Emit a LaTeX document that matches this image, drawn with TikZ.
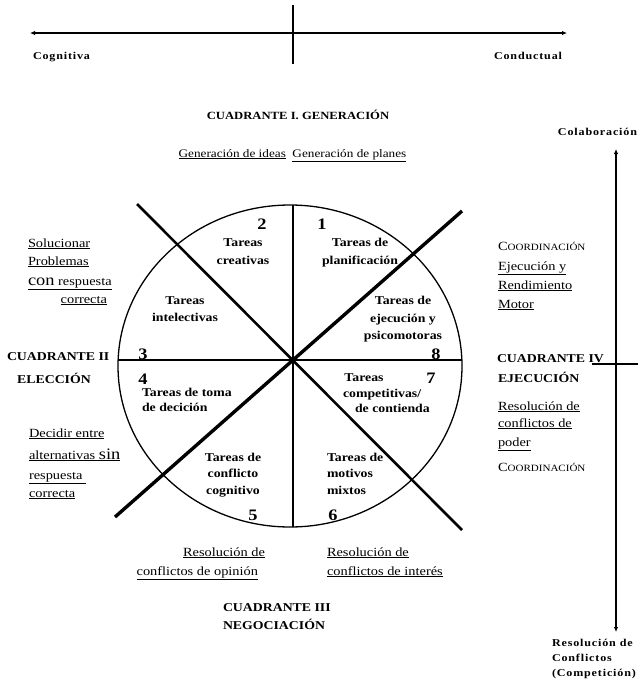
\documentclass[tikz,border=0pt]{standalone}
\usepackage{fontspec}
\setmainfont{Liberation Serif}[FakeStretch=1.15]
\usetikzlibrary{arrows.meta}
\newcommand{\ftask}{\fontsize{12}{14}\selectfont\bfseries}
\newcommand{\fnum}{\fontsize{16}{18}\selectfont\bfseries}
\newcommand{\flab}{\fontsize{12.5}{14}\selectfont}
\newcommand{\fgen}{\fontsize{11.5}{13}\selectfont}
\newcommand{\fbig}{\fontsize{16}{18}\selectfont}
\newcommand{\fcuad}{\fontsize{12}{14}\selectfont\bfseries}
\newcommand{\fcuadi}{\fontsize{11}{13}\selectfont\bfseries}
\newcommand{\fsml}{\fontsize{10.5}{12}\selectfont\bfseries\addfontfeatures{LetterSpace=8}}
\newcommand{\coord}{{\flab C\fontsize{9.6}{14}\selectfont OORDINACIÓN}}
\tikzset{
  txt/.style={inner sep=0pt, outer sep=0pt},
  task/.style={txt, font=\ftask, anchor=base},
  num/.style={txt, font=\fnum, anchor=base},
  lab/.style={txt, font=\flab},
  cuad/.style={txt, font=\fcuad},
  sml/.style={txt, font=\fsml},
  axis/.style={line width=1.1pt, {Latex[length=5pt,width=4.5pt]}-{Latex[length=5pt,width=4.5pt]}},
  thin/.style={line width=1.4pt},
}
\begin{document}
\begin{tikzpicture}[x=1pt,y=-1pt]
\useasboundingbox[fill=white] (0,0) rectangle (638,681);
% top axis
\coordinate (tl) at (30,33); \coordinate (tr) at (567,33);
\coordinate (tt) at (293,5); \coordinate (tb) at (293,64);
\draw[axis] (tl) -- (tr);
\draw[line width=1.1pt] (tt) -- (tb);
\node[sml, anchor=base west] (cog) at (33,59) {Cognitiva};
\node[sml, anchor=base east] (cond) at (562,59) {Conductual};
% right axis
\coordinate (rt) at (616,149); \coordinate (rb) at (616,632);
\draw[axis] (rt) -- (rb);
\coordinate (cl) at (592,364); \coordinate (cr) at (638,364);
\draw[line width=1.1pt] (cl) -- (cr);
\node[sml, anchor=base east] (cola) at (637,135) {Colaboración};
\node[sml, anchor=base west] (res1) at (552,646) {Resolución de};
\node[sml, anchor=base west] (res2) at (552,661) {Conflictos};
\node[sml, anchor=base west] (res3) at (552,676) {(Competición)};
% header
\node[txt, font=\fcuadi, anchor=base] (q1) at (298,119) {CUADRANTE I. GENERACIÓN};
\node[txt, font=\fgen, anchor=base] (gen) at (292.5,157) {\underline{Generación de ideas}\ \ \underline{Generación de planes}};
% circle
\coordinate (c) at (290,366);
\draw[line width=1.3pt] (c) ellipse [x radius=172pt, y radius=161pt];
\coordinate (hl) at (118.1,360); \coordinate (hr) at (461.9,360);
\coordinate (vt) at (293,205); \coordinate (vb) at (293,527);
\draw[thin] (hl) -- (hr);
\draw[thin] (vt) -- (vb);
\coordinate (d1a) at (137,204); \coordinate (d1b) at (462,530);
\coordinate (d2a) at (115,517); \coordinate (d2b) at (462,211);
\draw[line width=2.6pt] (d1a) -- (d1b);
\draw[line width=3.4pt] (d2a) -- (d2b);
% numbers
\node[num] (n1) at (322,229) {1};
\node[num] (n2) at (262,229) {2};
\node[num] (n3) at (143,359) {3};
\node[num] (n4) at (143,384) {4};
\node[num] (n5) at (253,520) {5};
\node[num] (n6) at (333,520) {6};
\node[num] (n7) at (431,383) {7};
\node[num] (n8) at (436,359) {8};
% tasks
\node[task] (t2a) at (243,246) {Tareas};
\node[task] (t2b) at (243,264) {creativas};
\node[task] (t1a) at (360,246) {Tareas de};
\node[task] (t1b) at (360,264) {planificación};
\node[task] (t3a) at (185,304) {Tareas};
\node[task] (t3b) at (185,321) {intelectivas};
\node[task] (t8a) at (403,304) {Tareas de};
\node[task] (t8b) at (403,322) {ejecución y};
\node[task] (t8c) at (403,339) {psicomotoras};
\node[task, anchor=base west] (t4a) at (142,396) {Tareas de toma};
\node[task, anchor=base west] (t4b) at (142,411) {de decición};
\node[task] (t7a) at (364,381) {Tareas};
\node[task, anchor=base west] (t7b) at (343,397) {competitivas/};
\node[task, anchor=base west] (t7c) at (355,412) {de contienda};
\node[task] (t5a) at (233,461) {Tareas de};
\node[task] (t5b) at (233,477) {conflicto};
\node[task] (t5c) at (233,494) {cognitivo};
\node[task, anchor=base west] (t6a) at (327,461) {Tareas de};
\node[task, anchor=base west] (t6b) at (327,477) {motivos};
\node[task, anchor=base west] (t6c) at (327,494) {mixtos};
% left side
\node[lab, anchor=base west] (l1) at (28,247) {\underline{Solucionar}};
\node[lab, anchor=base west] (l2) at (28,265) {\underline{Problemas}};
\node[lab, anchor=base west] (l3) at (28,285) {\underline{{\fbig con} respuesta}};
\node[lab, anchor=base east] (l4) at (107,303) {\underline{correcta}};
\node[cuad, anchor=base west] (q2a) at (7,360) {CUADRANTE II};
\node[cuad, anchor=base] (q2b) at (54,383) {ELECCIÓN};
\node[lab, anchor=base west] (l5) at (29,437) {\underline{Decidir entre}};
\node[lab, anchor=base west] (l6) at (29,459) {\underline{alternativas {\fbig sin}}};
\node[lab, anchor=base west] (l7) at (29,479) {\underline{respuesta\ }};
\node[lab, anchor=base west] (l8) at (29,497) {\underline{correcta}};
% right side
\node[lab, anchor=base west] (r1) at (498,250) {\coord};
\node[lab, anchor=base west] (r2) at (498,270) {\underline{Ejecución y}};
\node[lab, anchor=base west] (r3) at (498,289) {\underline{Rendimiento}};
\node[lab, anchor=base west] (r4) at (498,308) {\underline{Motor}};
\node[cuad, anchor=base west] (q4a) at (497,362) {CUADRANTE IV};
\node[cuad, anchor=base west] (q4b) at (498,382) {EJECUCIÓN};
\node[lab, anchor=base west] (r5) at (498,410) {\underline{Resolución de}};
\node[lab, anchor=base west] (r6) at (498,427) {\underline{conflictos de}};
\node[lab, anchor=base west] (r7) at (498,446) {\underline{poder}};
\node[lab, anchor=base west] (r8) at (498,471) {\coord};
% bottom
\node[lab, anchor=base east] (b1) at (265,556) {\underline{Resolución de}};
\node[lab, anchor=base east] (b2) at (258,575) {\underline{conflictos de opinión}};
\node[lab, anchor=base west] (b3) at (327,556) {\underline{Resolución de}};
\node[lab, anchor=base west] (b4) at (327,575) {\underline{conflictos de interés}};
\node[cuad, anchor=base west] (q3a) at (223,611) {CUADRANTE III};
\node[cuad, anchor=base west] (q3b) at (223,629) {NEGOCIACIÓN};
\end{tikzpicture}
\end{document}
